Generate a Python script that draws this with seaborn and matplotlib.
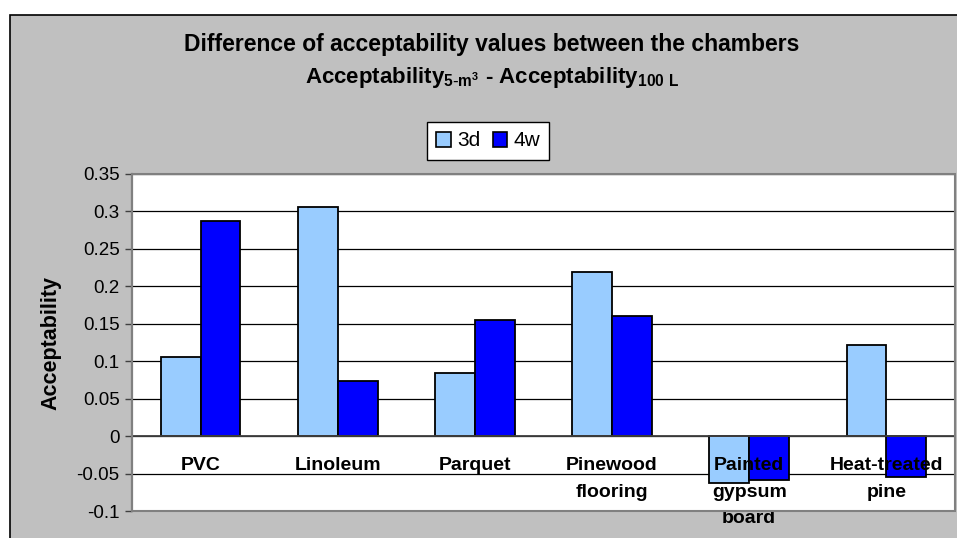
import numpy as np
import pandas as pd
import matplotlib
matplotlib.use("Agg")
import matplotlib.pyplot as plt
from matplotlib.patches import Rectangle
from matplotlib.ticker import FixedLocator
import seaborn as sns

# --- Daten ---
MATERIALS = ["PVC", "Linoleum", "Parquet", "Pinewood\nflooring",
             "Painted\ngypsum\nboard", "Heat-treated\npine"]
VALS_3D = [0.105, 0.306, 0.084, 0.219, -0.063, 0.122]
VALS_4W = [0.287, 0.073, 0.155, 0.160, -0.059, -0.054]
SERIES = ["3d", "4w"]
YTICKS = [0.35, 0.3, 0.25, 0.2, 0.15, 0.1, 0.05, 0, -0.05, -0.1]

COLORS = {"3d": "#99CCFF", "4w": "#0000FF"}

df = pd.DataFrame({
    "material": MATERIALS * 2,
    "series": ["3d"] * len(MATERIALS) + ["4w"] * len(MATERIALS),
    "value": VALS_3D + VALS_4W,
})

sns.set_theme(style="white")
plt.rcParams["font.family"] = ["Liberation Sans", "DejaVu Sans"]
plt.rcParams["text.color"] = "black"
plt.rcParams["axes.labelcolor"] = "black"
plt.rcParams["xtick.color"] = "black"
plt.rcParams["ytick.color"] = "black"
plt.rcParams["mathtext.default"] = "regular"

W, H = 957, 538
fig = plt.figure(figsize=(W / 100, H / 100), dpi=100)
fig.patch.set_facecolor("white")

# grauer Diagrammbereich mit schwarzem Rand (hinter den Achsen)
fig.patches.append(Rectangle((10 / W, -0.01), 1.0, 1 - 15 / H + 0.01,
                             transform=fig.transFigure, facecolor="#C0C0C0",
                             edgecolor="black", linewidth=1.2, zorder=-10))

ax = fig.add_axes([132 / W, 1 - 511 / H, (955 - 132) / W, (511 - 174) / H])
ax.set_facecolor("white")

sns.barplot(data=df, x="material", y="value", hue="series", hue_order=SERIES,
            palette=COLORS, width=0.58, edgecolor="black", linewidth=1.3,
            saturation=1, ax=ax, legend=False, zorder=3)

ax.set_ylim(-0.1, 0.35)
ax.set_xlim(-0.5, len(MATERIALS) - 0.5)
ax.set_yticks(YTICKS)
ax.set_yticklabels([f"{v:g}" for v in YTICKS], fontsize=13.5)
ax.yaxis.grid(True, color="black", linewidth=0.9)
ax.set_axisbelow(True)

# x-Achse auf die Nulllinie
for s in ["top", "right"]:
    ax.spines[s].set_visible(False)
ax.spines["bottom"].set_position(("data", 0))
ax.spines["bottom"].set_color("#404040")
ax.spines["bottom"].set_linewidth(1.3)
ax.spines["bottom"].set_zorder(4)
ax.spines["left"].set_color("#404040")
ax.spines["left"].set_linewidth(1.5)

ax.set_xticks(range(len(MATERIALS)))
ax.set_xticklabels(MATERIALS, fontsize=14, fontweight="bold", linespacing=1.75,
                   va="top")
ax.tick_params(axis="x", which="major", length=0, pad=15)
ax.xaxis.set_minor_locator(FixedLocator(np.arange(0.5, len(MATERIALS) - 0.5)))
ax.tick_params(axis="x", which="minor", direction="out", length=5,
               color="#404040", width=1)
ax.tick_params(axis="y", direction="out", length=5, color="#404040",
               width=1, left=True, pad=4)
# Beschriftung liegt in Excel über den Balken
ax.xaxis.set_zorder(5)

# grauer Rahmen um die Zeichenfläche
ax.add_patch(Rectangle((0, 0), 1, 1, transform=ax.transAxes, fill=False,
                       edgecolor="#808080", linewidth=1.5, zorder=6, clip_on=False))

ax.set_xlabel("")
ax.set_ylabel("Acceptability", fontsize=15.5, fontweight="bold", labelpad=11)

# Titel
fig.text(492 / W, 1 - 45 / H, "Difference of acceptability values between the chambers",
         ha="center", va="center", fontsize=16.5, fontweight="bold")
fig.text(492 / W, 1 - 77 / H,
         r"Acceptability$_{5\text{-}m^{3}}$ - Acceptability$_{100\ L}$",
         ha="center", va="center", fontsize=16, fontweight="bold")

# Legende
handles = [Rectangle((0, 0), 1, 1, facecolor=COLORS[s], edgecolor="black", linewidth=1.2)
           for s in SERIES]
leg = fig.legend(handles, SERIES, loc="center", bbox_to_anchor=(488 / W, 1 - 141 / H),
                 ncol=2, fontsize=15, frameon=True, fancybox=False, framealpha=1,
                 handlelength=0.7, handleheight=0.7, handletextpad=0.3,
                 columnspacing=0.6, borderpad=0.45)
leg.get_frame().set_edgecolor("black")
leg.get_frame().set_linewidth(1.0)
leg.get_frame().set_facecolor("white")

fig.savefig("out.png", dpi=100)
